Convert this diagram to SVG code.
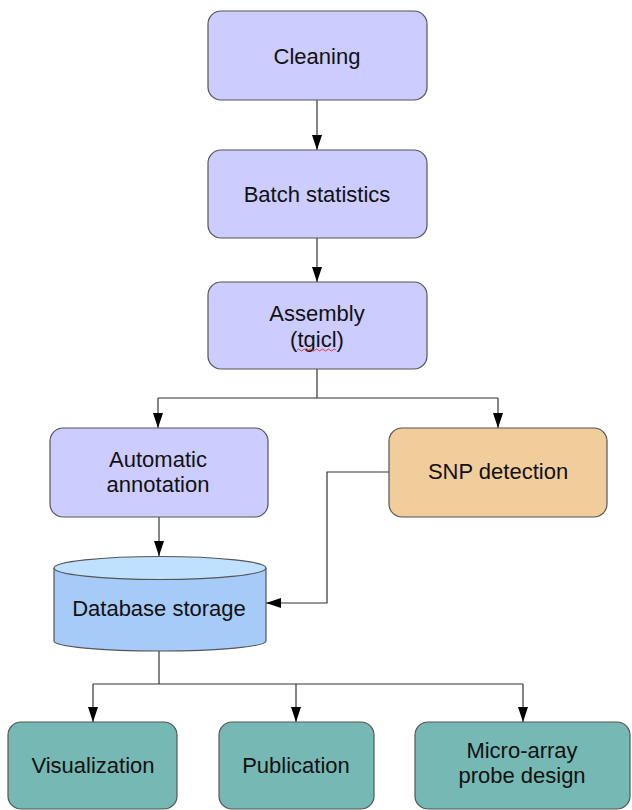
<svg xmlns="http://www.w3.org/2000/svg" width="632" height="810" viewBox="0 0 632 810">
<style>
text{font-family:"Liberation Sans",Arial,sans-serif;font-size:22px;fill:#111;text-anchor:middle}
.lav{fill:#ccccff;stroke:#555;stroke-width:1.2}
.snp{fill:#f1cd9c;stroke:#555;stroke-width:1.2}
.teal{fill:#76b8b4;stroke:#555;stroke-width:1.2}
.con{fill:none;stroke:#333;stroke-width:1.2}
</style>
<defs>
<marker id="ah" markerWidth="15" markerHeight="10" refX="15" refY="5" orient="auto" markerUnits="userSpaceOnUse" viewBox="0 0 15 10">
<path d="M0,0 L15,5 L0,10 Z" fill="#000"/>
</marker>
</defs>
<g id="connectors">
<path class="con" d="M317,100 V150" marker-end="url(#ah)"/>
<path class="con" d="M317,238 V282" marker-end="url(#ah)"/>
<path class="con" d="M317,369 V398"/>
<path class="con" d="M158,398 H498"/>
<path class="con" d="M158,398 V428" marker-end="url(#ah)"/>
<path class="con" d="M498,398 V428" marker-end="url(#ah)"/>
<path class="con" d="M159,517 V556" marker-end="url(#ah)"/>
<path class="con" d="M389,472 H327 V603 H266" marker-end="url(#ah)"/>
<path class="con" d="M159,650 V684"/>
<path class="con" d="M93,684 H523"/>
<path class="con" d="M93,684 V722" marker-end="url(#ah)"/>
<path class="con" d="M296,684 V722" marker-end="url(#ah)"/>
<path class="con" d="M523,684 V722" marker-end="url(#ah)"/>
</g>
<g id="cleaning">
<rect class="lav" x="208" y="11" width="219" height="89" rx="13"/>
<text x="317" y="64">Cleaning</text>
</g>
<g id="batch">
<rect class="lav" x="208" y="150" width="219" height="88" rx="13"/>
<text x="317" y="202">Batch statistics</text>
</g>
<g id="assembly">
<rect class="lav" x="208" y="282" width="219" height="87" rx="13"/>
<text x="317" y="321">Assembly</text>
<text x="317" y="347">(tgicl)</text>
<path d="M297,350 q1.5,-2 3,0 t3,0 t3,0 t3,0 t3,0 t3,0 t3,0 t3,0 t3,0 t3,0 t3,0 t3,0 t3,0" fill="none" stroke="#e03030" stroke-width="0.9"/>
</g>
<g id="annotation">
<rect class="lav" x="50" y="428" width="218" height="89" rx="13"/>
<text x="158" y="467">Automatic</text>
<text x="158" y="492">annotation</text>
</g>
<g id="snp">
<rect class="snp" x="389" y="428" width="218" height="89" rx="13"/>
<text x="498" y="479">SNP detection</text>
</g>
<g id="database">
<path d="M54,568 V641 A106,10 0 0 0 266,641 V568" fill="#a6cbf8" stroke="#555" stroke-width="1.2"/>
<ellipse cx="160" cy="568" rx="106" ry="11.5" fill="#bfe0fe" stroke="#555" stroke-width="1.2"/>
<text x="159" y="616">Database storage</text>
</g>
<g id="visualization">
<rect class="teal" x="8" y="722" width="169" height="87" rx="13"/>
<text x="93" y="773">Visualization</text>
</g>
<g id="publication">
<rect class="teal" x="219" y="722" width="155" height="87" rx="13"/>
<text x="296" y="773">Publication</text>
</g>
<g id="microarray">
<rect class="teal" x="415" y="722" width="215" height="87" rx="13"/>
<text x="522" y="758">Micro-array</text>
<text x="522" y="783">probe design</text>
</g>
</svg>
